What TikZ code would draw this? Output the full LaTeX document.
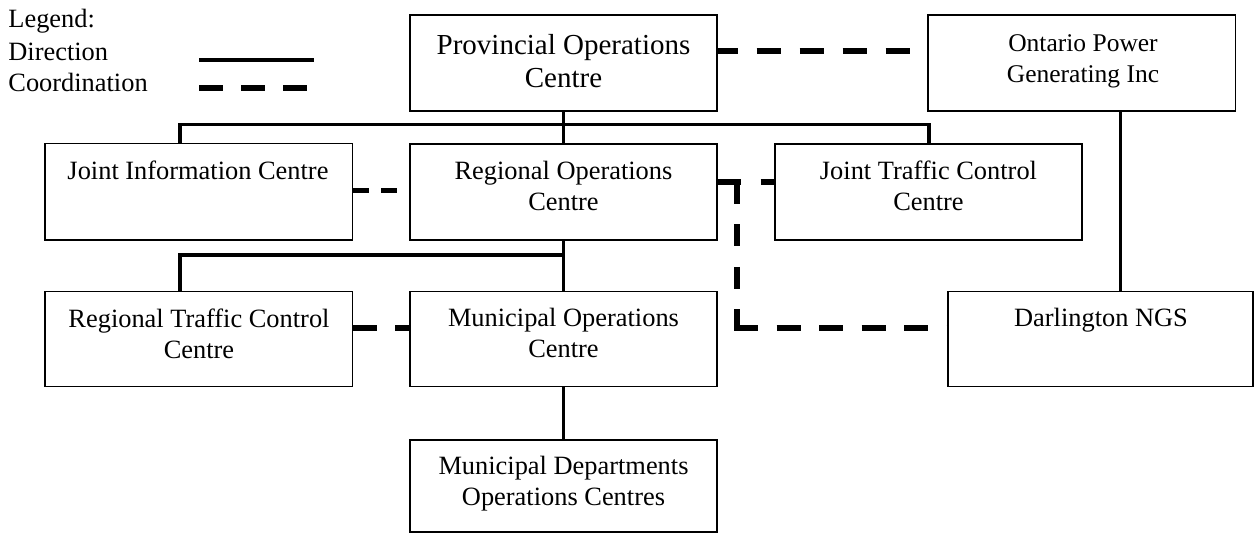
\documentclass[tikz,border=0pt]{standalone}
\usepackage{fontspec}
\setmainfont{Liberation Serif}
\newcommand\orgbox[5]{%
  \node[box, minimum width={(#4-#2)*0.5pt}, minimum height={(#5-#3)*0.5pt}] (#1) at ({(#2+#4)/2},{(#3+#5)/2}) {};}
\begin{document}
\begin{tikzpicture}[x=0.5pt,y=-0.5pt,
  box/.style={draw, line width=0.65pt, inner sep=0pt, rectangle},
  lbl/.style={inner sep=0pt, anchor=base, font=\fontsize{13.2pt}{15.5pt}\selectfont},
  lgd/.style={inner sep=0pt, anchor=base west, font=\fontsize{13.2pt}{15.5pt}\selectfont},
  dirline/.style={line width=1.75pt, line join=miter},
  coordline/.style={line width=3pt, dash pattern=on 12pt off 9.25pt}]
\useasboundingbox (0,0) rectangle (1254,533);

% boxes
\orgbox{POC}{410}{15}{717}{111}
\orgbox{OPG}{928}{15}{1235.7}{111}
\orgbox{JIC}{45}{143.5}{352.7}{240}
\orgbox{ROC}{410}{144}{717}{240}
\orgbox{JTCC}{775}{144}{1082}{240}
\orgbox{RTCC}{45}{291.7}{352.7}{386.7}
\orgbox{MOC}{410}{291.7}{717}{386.7}
\orgbox{DNGS}{948}{291.7}{1253}{386.7}
\orgbox{MDOC}{410}{440}{717}{532}

% labels
\node[lbl, font=\fontsize{14.5pt}{16.2pt}\selectfont] (POCt) at (563.5,55) {\parbox[t]{152pt}{\centering Provincial Operations\\Centre}};
\node[lbl, font=\fontsize{12.75pt}{15.6pt}\selectfont] (OPGt) at (1083,51.7) {\parbox[t]{152pt}{\centering Ontario Power\\Generating Inc}};
\node[lbl] (JICt) at (198,180) {\parbox[t]{152pt}{\centering Joint Information Centre}};
\node[lbl] (ROCt) at (563.5,180) {\parbox[t]{152pt}{\centering Regional Operations\\Centre}};
\node[lbl] (JTCCt) at (928.5,180) {\parbox[t]{152pt}{\centering Joint Traffic Control\\Centre}};
\node[lbl] (RTCCt) at (199,327.3) {\parbox[t]{152pt}{\centering Regional Traffic Control\\Centre}};
\node[lbl] (MOCt) at (563.5,326.7) {\parbox[t]{152pt}{\centering Municipal Operations\\Centre}};
\node[lbl] (DNGSt) at (1101,327) {\parbox[t]{152pt}{\centering Darlington NGS}};
\node[lbl] (MDOCt) at (563.5,475) {\parbox[t]{152pt}{\centering Municipal Departments\\Operations Centres}};

% legend
\node[lgd] (lg) at (8,28) {Legend:};
\node[lgd] (ld) at (8,61) {Direction};
\node[lgd] (lc) at (8,92) {Coordination};
\coordinate (s1) at (199,60); \coordinate (s2) at (314,60);
\coordinate (s3) at (199,88); \coordinate (s4) at (307,88);
\draw[line width=2pt] (s1) -- (s2);
\draw[coordline, dash pattern=on 12pt off 9pt] (s3) -- (s4);

% direction connectors
\coordinate (b1) at (180,124.3);
\coordinate (b2) at (929,124.3);
\coordinate (b3) at (180,255);
\coordinate (o1) at (1120.7,200);
\draw[dirline] (POC.south) -- (ROC.north);
\draw[dirline] (JIC.north -| b1) -- (b1) -- (b2) -- (JTCC.north -| b2);
\draw[dirline] (ROC.south) -- (MOC.north);
\draw[dirline] (RTCC.north -| b3) -- (b3) -- (b3 -| ROC.south);
\draw[dirline] (MOC.south) -- (MDOC.north);
\draw[dirline] (OPG.south -| o1) -- (DNGS.north -| o1);

% coordination connectors
\coordinate (d1) at (800,51);
\coordinate (d2) at (380,191);
\coordinate (d3) at (740,182);
\coordinate (d4) at (380,328);
\coordinate (l1) at (737,182);
\coordinate (l2) at (737,331.5);
\coordinate (l3) at (734,328);
\draw[coordline, dash pattern=on 12pt off 9.5pt, dash phase=2pt] (POC.east |- d1) -- (OPG.west |- d1);
\draw[coordline, line width=2.5pt, dash pattern=on 8pt off 6pt] (JIC.east |- d2) -- (ROC.west |- d2);
\draw[coordline, dash pattern=on 11.5pt off 10pt] (ROC.east |- d3) -- (JTCC.west |- d3);
\draw[coordline, dash pattern=on 11pt off 10.25pt] (l1) -- (l2);
\draw[coordline, dash pattern=on 12pt off 9.25pt] (l3) -- (DNGS.west |- l3);
\draw[coordline, dash pattern=on 12pt off 9pt] (RTCC.east |- d4) -- (MOC.west |- d4);
\end{tikzpicture}
\end{document}
